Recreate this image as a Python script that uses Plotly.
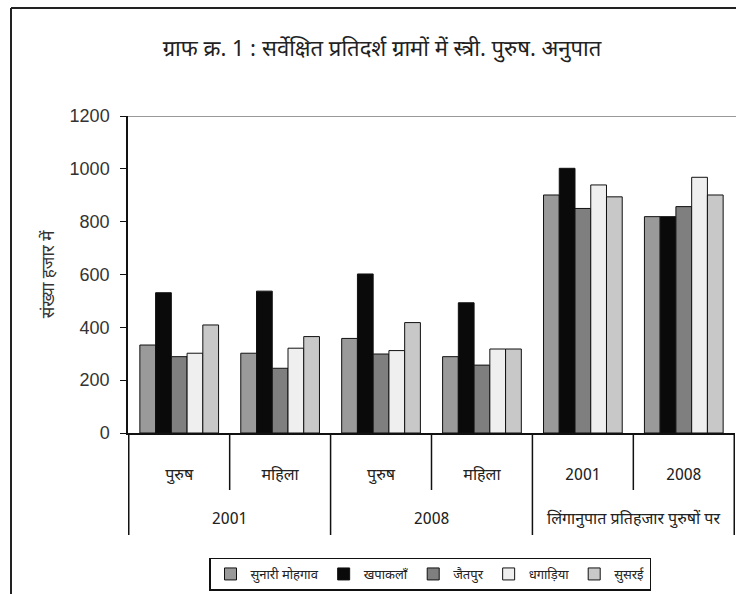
import plotly.graph_objects as go

# categories: (group, sub-label)
groups = ["2001", "2008", "लिंगानुपात प्रतिहजार पुरुषों पर"]
cat_keys = ["2001-पुरुष", "2001-महिला", "2008-पुरुष", "2008-महिला", "अनुपात-2001", "अनुपात-2008"]
cat_labels = ["पुरुष", "महिला", "पुरुष", "महिला", "2001", "2008"]
cat_group = [0, 0, 1, 1, 2, 2]

villages = ["सुनारी मोहगाव", "खपाकलाँ", "जैतपुर", "धगाड़िया", "सुसरई"]
values = {
    "सुनारी मोहगाव": [333, 302, 358, 289, 901, 819],
    "खपाकलाँ": [531, 537, 602, 493, 1002, 819],
    "जैतपुर": [289, 245, 299, 257, 850, 857],
    "धगाड़िया": [302, 321, 312, 318, 939, 968],
    "सुसरई": [409, 365, 418, 318, 894, 901],
}
colors = ["#9a9a9a", "#0a0a0a", "#7f7f7f", "#efefef", "#c8c8c8"]

title = "ग्राफ क्र. 1 : सर्वेक्षित प्रतिदर्श ग्रामों में स्त्री. पुरुष. अनुपात"
ytitle = "संख्या हजार में"

W, H = 736, 594
L, R, T, B = 128, 1, 116, 161
pw = W - L - R
ph = H - T - B


def py(pix):
    """pixel row -> paper y"""
    return (H - B - pix) / ph


def px(pix):
    return (pix - L) / pw


fig = go.Figure()
for v, c in zip(villages, colors):
    fig.add_trace(go.Bar(
        x=cat_keys, y=values[v], name=v,
        marker=dict(color=c, line=dict(color="#111111", width=1)),
    ))

font_fam = "Noto Sans Devanagari, Lohit Devanagari, FreeSans, Arial, Liberation Sans, sans-serif"

fig.update_layout(
    width=W, height=H,
    margin=dict(l=L, r=R, t=T, b=B, pad=0),
    paper_bgcolor="white", plot_bgcolor="white",
    barmode="group", bargap=0.22, bargroupgap=0,
    font=dict(family=font_fam, color="#222222", size=15),
    title=dict(text=title, x=382 / W, xanchor="center",
               y=1 - 48 / H, yanchor="middle",
               font=dict(size=22, color="#222222")),
    showlegend=True,
    legend=dict(orientation="h", x=px(430), xanchor="center",
                y=py(574), yanchor="middle",
                bordercolor="#111111", borderwidth=1.5,
                font=dict(size=13, color="#222222"),
                traceorder="normal"),
)

fig.update_yaxes(
    range=[0, 1200], tickvals=[0, 200, 400, 600, 800, 1000, 1200],
    showgrid=False, zeroline=False,
    showline=True, linecolor="#111111", linewidth=1.5,
    ticks="outside", ticklen=6, tickcolor="#111111",
    ticklabelstandoff=7,
    tickfont=dict(family="Arial, Liberation Sans, sans-serif", size=18, color="#333333"),
    title=dict(text=ytitle, standoff=11, font=dict(size=17, color="#333333")),
)
fig.update_xaxes(
    type="category", tickvals=cat_keys, ticktext=cat_labels,
    showline=True, linecolor="#111111", linewidth=1.5,
    ticks="", ticklabelstandoff=26,
    tickfont=dict(size=16, color="#222222"),
    showgrid=False,
)

# group labels below the sub-category labels
n = len(cat_keys)
for gi, g in enumerate(groups):
    idx = [i for i in range(n) if cat_group[i] == gi]
    fig.add_annotation(x=(idx[0] + idx[-1]) / 2, xref="x", y=py(520), yref="paper",
                       text=g, showarrow=False, font=dict(size=16, color="#222222"),
                       yanchor="middle")

# dividers: short between sub-categories, long between groups
for b in range(n + 1):
    left = b - 1
    right = b
    is_group_edge = (b == 0 or b == n or cat_group[left] != cat_group[right])
    fig.add_shape(type="line", xref="x", yref="paper",
                  x0=b - 0.5, x1=b - 0.5, y0=0, y1=py(535 if is_group_edge else 490),
                  line=dict(color="#111111", width=1.5))

# outer chart frame (left and top edges visible) and top line at 1200
fig.add_shape(type="line", xref="paper", yref="paper",
              x0=px(11), x1=px(11), y0=py(600), y1=py(8),
              line=dict(color="#222222", width=2))
fig.add_shape(type="line", xref="paper", yref="paper",
              x0=px(11), x1=px(740), y0=py(8), y1=py(8),
              line=dict(color="#222222", width=2))
fig.add_shape(type="line", xref="paper", yref="y",
              x0=0, x1=px(740), y0=1200, y1=1200,
              line=dict(color="#777777", width=1.5))

fig.write_html("out.html")
